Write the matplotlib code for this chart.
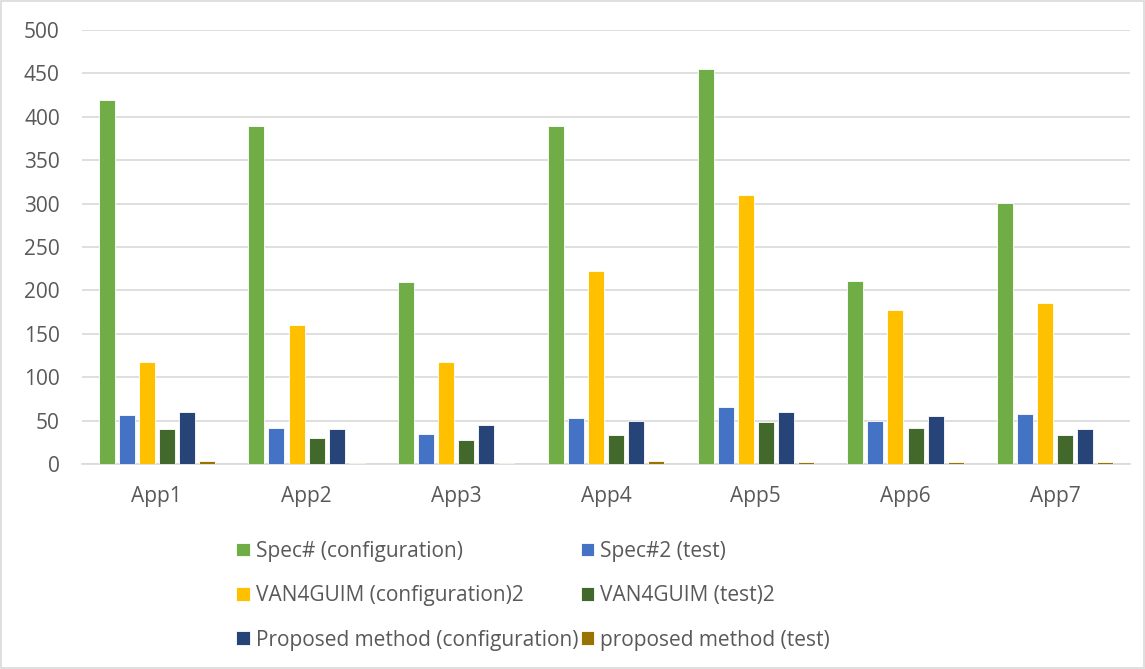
import matplotlib.pyplot as plt
import numpy as np
from matplotlib.patches import Rectangle

apps = ["App1", "App2", "App3", "App4", "App5", "App6", "App7"]
series_names = [
    "Spec# (configuration)",
    "Spec#2 (test)",
    "VAN4GUIM (configuration)2",
    "VAN4GUIM (test)2",
    "Proposed method (configuration)",
    "proposed method (test)",
]
spec_conf = [420, 390, 210, 390, 455, 211, 301]
spec_test = [56, 42, 35, 53, 66, 50, 58]
van_conf = [118, 160, 117, 222, 310, 178, 186]
van_test = [40, 30, 28, 34, 48, 42, 33]
prop_conf = [60, 40, 45, 50, 60, 55, 40]
prop_test = [3, 1.5, 1, 3.5, 2.3, 2.7, 2]

colors = ["#70AD47", "#4472C4", "#FFC000", "#43682B", "#264478", "#997300"]
all_series = [spec_conf, spec_test, van_conf, van_test, prop_conf, prop_test]

plt.rcParams["font.family"] = ["Open Sans", "DejaVu Sans"]
txt_color = "#595959"
grid_color = "#D9D9D9"
fsize = 15

fig = plt.figure(figsize=(11.45, 6.69), dpi=100)
ax = fig.add_axes([0.0716, 0.3064, 0.9154, 0.6486])

x = np.arange(len(apps))
step = 0.134
width = 0.107
for i, (vals, col, name) in enumerate(zip(all_series, colors, series_names)):
    ax.bar(x + (i - 2.5) * step, vals, width=width, color=col, label=name,
           edgecolor="white", linewidth=0.6, zorder=3)

ax.set_xlim(-0.5, len(apps) - 0.5)
ax.set_ylim(0, 500)
ax.set_yticks(range(0, 501, 50))
ax.set_xticks(x)
ax.set_xticklabels(apps)
ax.grid(axis="y", color=grid_color, linewidth=1.2, zorder=0)
for s in ["top", "right", "left"]:
    ax.spines[s].set_visible(False)
ax.spines["bottom"].set_color(grid_color)
ax.spines["bottom"].set_linewidth(1.2)
ax.tick_params(axis="both", length=0, labelsize=fsize, colors=txt_color)
ax.tick_params(axis="x", pad=16)
ax.tick_params(axis="y", pad=16)

# legend in 3 rows x 2 columns (row-major order)
handles, labels = ax.get_legend_handles_labels()
order = [0, 2, 4, 1, 3, 5]
leg = fig.legend([handles[k] for k in order], [labels[k] for k in order],
                 ncol=2, loc="upper left", bbox_to_anchor=(0.199, 0.204),
                 frameon=False, fontsize=fsize, handlelength=0.65, handleheight=0.65,
                 handletextpad=0.3, columnspacing=0.1, labelspacing=1.12,
                 borderaxespad=0)
for t in leg.get_texts():
    t.set_color(txt_color)

fig.patches.append(Rectangle((0.001, 0.001), 0.998, 0.997, transform=fig.transFigure,
                             fill=False, edgecolor=grid_color, linewidth=1.2))

fig.savefig("out.png", dpi=100)
